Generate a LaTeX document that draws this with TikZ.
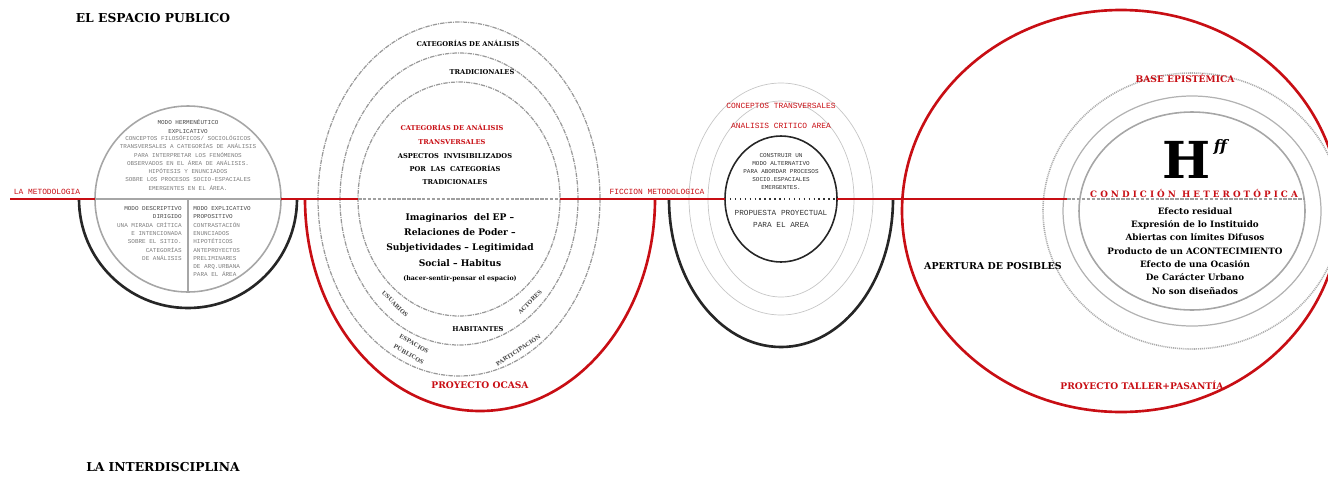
\documentclass[tikz,border=0pt]{standalone}
\usepackage{fontspec}
\setmainfont{Liberation Serif}
\newfontfamily\monofnt{Liberation Mono}
\newfontfamily\slabfnt{DejaVu Serif}
\usetikzlibrary{calc,positioning}
\definecolor{metred}{RGB}{200,14,20}
\definecolor{txtgray}{RGB}{125,125,125}
\definecolor{headgray}{RGB}{70,70,70}
\newcommand\monotiny{\monofnt\fontsize{3.4pt}{4.7pt}\selectfont}
\newcommand\monosmall{\monofnt\fontsize{4.5pt}{6.6pt}\selectfont}
\newcommand\slabtiny{\slabfnt\bfseries\fontsize{3.8pt}{7.6pt}\selectfont}
\newcommand\slabring{\slabfnt\bfseries\fontsize{3.2pt}{5pt}\selectfont}
\newcommand\slabsmall{\slabfnt\bfseries\fontsize{5.2pt}{8.4pt}\selectfont}
\newcommand\slabtitle{\slabfnt\bfseries\fontsize{7pt}{8pt}\selectfont}

\begin{document}
\begin{tikzpicture}[x=0.02cm, y=-0.02cm, every node/.style={align=center, inner sep=0pt}]
\tikzset{
  redline/.style={draw=metred, line width=1.1pt},
  redarc/.style={draw=metred, line width=1.5pt},
  blackarc/.style={draw=black!85, line width=1.5pt},
  grayline/.style={draw=gray!70, line width=0.9pt},
  ringline/.style={draw=gray!80, line width=0.7pt, dash pattern=on 2.5pt off 0.6pt on 0.6pt off 0.6pt},
  thinring/.style={draw=gray!45, line width=0.4pt},
  dotring/.style={draw=gray!65, line width=0.9pt, dash pattern=on 0.6pt off 0.5pt},
  divider/.style={draw=gray!75, line width=0.8pt, dash pattern=on 2pt off 0.8pt},
  headmono/.style={font=\monotiny, text=headgray},
  bodymono/.style={font=\monotiny, text=txtgray},
  redmono/.style={font=\monosmall, text=metred},
  slabt/.style={font=\slabtiny, text=black},
  ringlabel/.style={font=\slabring, text=black!70},
  slabs/.style={font=\slabsmall, text=black},
  redslab/.style={font=\slabsmall, text=metred}
}
\useasboundingbox (0,0) rectangle (1328,477);

% centres and line ends
\coordinate (c1) at (188,199);
\coordinate (c2) at (459,199);
\coordinate (ocasa) at (480,199);
\coordinate (c3) at (781,199);
\coordinate (c4) at (1192,211);
\coordinate (taller) at (1121,211);
\coordinate (lstart) at (10,199);
\coordinate (c1w) at (95,199);
\coordinate (c1e) at (281,199);
\coordinate (c1s) at (188,292);
\coordinate (c2w) at (358,199);
\coordinate (c2e) at (560,199);
\coordinate (c3w) at (725,199);
\coordinate (c3e) at (837,199);
\coordinate (c4w) at (1067,199);
\coordinate (c4e) at (1305,199);

% titles
\node[font=\slabtitle] (espacio) at (153,18) {EL ESPACIO PUBLICO};
\node[font=\slabtitle] (interdis) at (163,467) {LA INTERDISCIPLINA};

% circle 1
\draw[grayline] (c1) circle [radius=93];
\draw[blackarc] ($(c1)+(109,0)$) arc [start angle=0, end angle=180, x radius=109, y radius=109];
\draw[redline] (lstart) -- (c1w);
\draw[grayline] (c1w) -- (c1e);
\draw[grayline] (c1) -- (c1s);
\node[redmono, anchor=south] (metodo) at (47,195) {LA METODOLOGIA};
\node[headmono] (hermen) at (188,126.5) {MODO HERMENÉUTICO\\EXPLICATIVO};
\node[bodymono] (concep) at (188,163) {CONCEPTOS FILOSÓFICOS/ SOCIOLÓGICOS\\TRANSVERSALES A CATEGORÍAS DE ANÁLISIS\\PARA INTERPRETAR LOS FENÓMENOS\\OBSERVADOS EN EL ÁREA DE ANÁLISIS.\\HIPÓTESIS Y ENUNCIADOS\\SOBRE LOS PROCESOS SOCIO-ESPACIALES\\EMERGENTES EN EL ÁREA.};
\node[headmono, align=right, anchor=north east] (descr) at (182,206) {MODO DESCRIPTIVO\\DIRIGIDO};
\node[bodymono, align=right, anchor=north east] (mirada) at ($(descr.south east)+(0,3)$) {UNA MIRADA CRÍTICA\\E INTENCIONADA\\SOBRE EL SITIO.\\CATEGORÍAS\\DE ANÁLISIS};
\node[headmono, align=left, anchor=north west] (explic) at (193,206) {MODO EXPLICATIVO\\PROPOSITIVO};
\node[bodymono, align=left, anchor=north west] (contra) at ($(explic.south west)+(0,3)$) {CONTRASTACIÓN\\ENUNCIADOS\\HIPOTÉTICOS\\ANTEPROYECTOS\\PRELIMINARES\\DE ARQ.URBANA\\PARA EL ÁREA};

% circle 2
\draw[ringline] (c2) ellipse [x radius=141, y radius=177];
\draw[ringline] (c2) ellipse [x radius=119, y radius=146];
\draw[ringline] (c2) ellipse [x radius=101, y radius=117];
\draw[redarc] ($(ocasa)+(175,0)$) arc [start angle=0, end angle=180, x radius=175, y radius=212];
\draw[redline] (c1e) -- (c2w);
\draw[divider] (c2w) -- (c2e);
\node[slabt] (catan) at (468,43) {CATEGORÍAS DE ANÁLISIS};
\node[slabt] (tradic) at (482,72) {TRADICIONALES};
\node[slabt, text=metred] (cattr) at (452,134.5) {CATEGORÍAS DE ANÁLISIS\\TRANSVERSALES};
\node[slabt] (aspect) at (455,169) {ASPECTOS\ \ INVISIBILIZADOS\\POR\ \ LAS\ \ CATEGORÍAS\\TRADICIONALES};
\node[slabs, font=\slabfnt\bfseries\fontsize{5.2pt}{8.6pt}\selectfont] (imagin) at (460,240) {Imaginarios\ \ del EP –\\Relaciones de Poder –\\Subjetividades – Legitimidad\\Social – Habitus};
\node[slabt, font=\slabfnt\bfseries\fontsize{3.6pt}{5pt}\selectfont] (hacer) at (460,279) {(hacer-sentir-pensar el espacio)};
\node[ringlabel, rotate=-45] (usuar) at (395,304) {USUARIOS};
\node[slabt] (habit) at (478,329) {HABITANTES};
\node[ringlabel, rotate=45] (actor) at (530,302) {ACTORES};
\node[ringlabel, rotate=-30] (espac) at (414,344) {ESPACIOS};
\node[ringlabel, rotate=-30] (public) at (409,354) {PÚBLICOS};
\node[ringlabel, rotate=33] (partic) at (518,350) {PARTICIPACIÓN};
\node[redslab] (proyoc) at (480,385) {PROYECTO OCASA};

% circle 3
\draw[thinring] (c3) ellipse [x radius=92, y radius=116];
\draw[thinring] (c3) ellipse [x radius=73, y radius=98];
\draw[draw=black!85, line width=0.9pt] (c3) ellipse [x radius=56, y radius=63];
\draw[blackarc] ($(c3)+(112,0)$) arc [start angle=0, end angle=180, x radius=112, y radius=148];
\draw[redline] (c2e) -- (c3w);
\draw[draw=black!80, line width=0.8pt, dotted] (c3w) -- (c3e);
\node[redmono, anchor=south] (ficcion) at (657,195) {FICCION METODOLOGICA};
\node[redmono] (conctr) at (781,106) {CONCEPTOS TRANSVERSALES};
\node[redmono] (analis) at (781,126) {ANALISIS CRITICO AREA};
\node[headmono, font=\monofnt\fontsize{3.4pt}{4.6pt}\selectfont, text=black!80] (constr) at (781,171.5) {CONSTRUIR UN\\MODO ALTERNATIVO\\PARA ABORDAR PROCESOS\\SOCIO.ESPACIALES\\EMERGENTES.};
\node[headmono, font=\monofnt\fontsize{4.4pt}{6.7pt}\selectfont, text=black!80] (propue) at (781,219) {PROPUESTA PROYECTUAL\\PARA EL AREA};

% circle 4
\draw[redarc] (taller) ellipse [x radius=219, y radius=201];
\draw[dotring] (c4) ellipse [x radius=149, y radius=138];
\draw[thinring, draw=gray!60, line width=0.7pt] (c4) ellipse [x radius=129, y radius=115];
\draw[grayline] (c4) ellipse [x radius=113, y radius=99];
\draw[redline] (c3e) -- (c4w);
\draw[divider] (c4w) -- (c4e);
\node[redslab] (basepi) at (1185,78) {BASE EPISTÉMICA};
\node[font=\slabfnt\bfseries\fontsize{29pt}{30pt}\selectfont] (hache) at (1187,160) {H};
\node[font=\slabfnt\bfseries\itshape\fontsize{9pt}{10pt}\selectfont, anchor=west] (hexp) at ($(hache.north east)+(2,6)$) {ff};
\node[font=\slabfnt\bfseries\fontsize{5pt}{6pt}\selectfont\addfontfeatures{LetterSpace=35}, text=metred] (hetero) at (1194,193) {CONDICIÓN HETEROTÓPICA};
\node[slabs, font=\slabfnt\bfseries\fontsize{5pt}{7.6pt}\selectfont] (efecto) at (1195,251) {Efecto residual\\Expresión de lo Instituido\\Abiertas con límites Difusos\\Producto de un ACONTECIMIENTO\\Efecto de una Ocasión\\De Carácter Urbano\\No son diseñados};
\node[slabs, font=\slabfnt\bfseries\fontsize{5.4pt}{6pt}\selectfont] (apert) at (993,266) {APERTURA DE POSIBLES};
\node[redslab] (proyta) at (1142,385) {PROYECTO TALLER+PASANTÍA};
\end{tikzpicture}
\end{document}
